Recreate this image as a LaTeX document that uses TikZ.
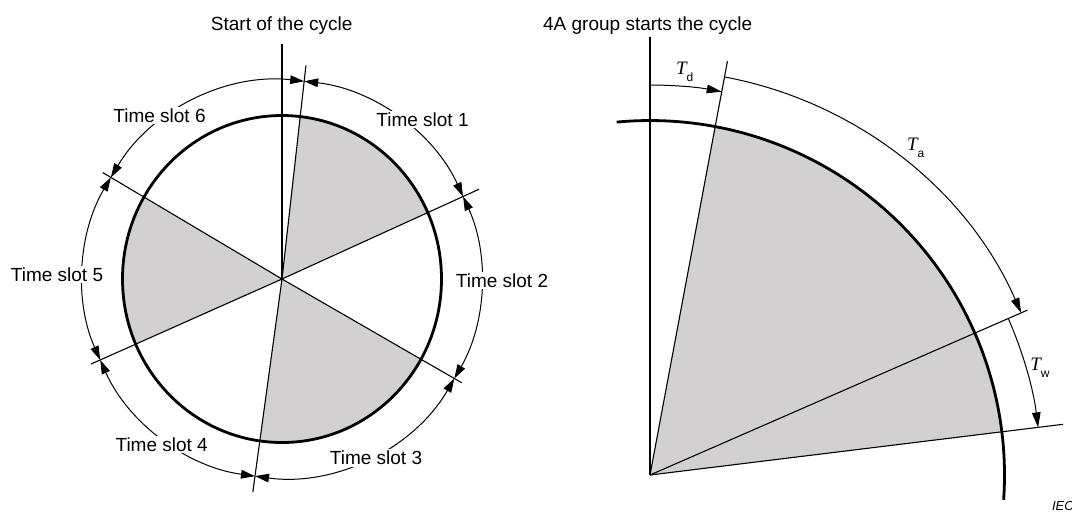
\documentclass[tikz,border=0pt]{standalone}
\usepackage{fontspec}
\setmainfont{Liberation Sans}
\newfontfamily\timesfont{Liberation Serif}
\usetikzlibrary{arrows.meta}
\definecolor{slotgray}{RGB}{210,208,209}
\newcommand{\tsub}[2]{{\timesfont\itshape #1}\raisebox{-3.6pt}{\fontsize{6}{7}\selectfont #2}}
\tikzset{
    % arcs between two slot lines, tips at both ends
    slotarrow/.style={
        line width=0.5pt,
        <->,
        >={Triangle[length=7pt, width=4.3pt]}
    },
    % arcs of the timing, tip at the end only
    timearrow/.style={
        line width=0.5pt,
        ->,
        >={Triangle[length=7.5pt, width=4.3pt]}
    },
    rimline/.style={line width=1.4pt},
    thinline/.style={line width=0.55pt},
    lbl/.style={font=\fontsize{9.5}{11}\selectfont, inner sep=0.8pt, anchor=base, fill=white}
}
\begin{document}
\begin{tikzpicture}[x=0.5pt,y=0.5pt]
    \useasboundingbox (0,0) rectangle (1072,-511);
    % ===================== left =====================
    \begin{scope}[shift={(282,-279)}]
     \path
     (0,0) coordinate (o)
     (90:235) coordinate (s0)
     (83.6:215) coordinate (l1)
     (24.5:216.5) coordinate (l2)
     (-30:207.5) coordinate (l3)
     (262.2:215) coordinate (l4)
     (204:209) coordinate (l5)
     (149.3:208.5) coordinate (l6);
     \begin{scope}
      \clip (o) ellipse [x radius=159.5, y radius=163.5];
      \fill[slotgray] (o) -- (83.6:260) -- (24.5:260) -- cycle;
      \fill[slotgray] (o) -- (-30:260) -- (262.2:260) -- cycle;
      \fill[slotgray] (o) -- (204:260) -- (149.3:260) -- cycle;
     \end{scope}
     \draw[rimline] (o) ellipse [x radius=159.5, y radius=163.5];
     \draw[thinline] (o) -- (s0);
     \foreach \p in {l1,l2,l3,l4,l5,l6}
       \draw[thinline] (o) -- (\p);

     \foreach \a/\b in {83.6/24.5, 24.5/-30, -30/-97.8, 262.2/204, 204/149.3, 149.3/83.6}
       \draw[slotarrow] (\a:199) arc[start angle=\a, end angle=\b, radius=199];
    \end{scope}
    \node[lbl] (start) at (281.7,-30.3) {Start of the cycle};
    \node[lbl] (slot1) at (422.5,-126.7) {Time slot 1};
    \node[lbl] (slot2) at (502,-287.3) {Time slot 2};
    \node[lbl] (slot3) at (376,-464.8) {Time slot 3};
    \node[lbl] (slot4) at (161.7,-451) {Time slot 4};
    \node[lbl] (slot5) at (57,-281.7) {Time slot 5};
    \node[lbl] (slot6) at (159.5,-122.7) {Time slot 6};

    % ===================== right =====================
    \begin{scope}[shift={(650,-475)}]
     \path
     (0,0) coordinate (p)
     (90:438) coordinate (q0)
     (79.4:421) coordinate (q1)
     (23.6:412) coordinate (q2)
     (7:416) coordinate (q3);
     \fill[slotgray] (p) -- (7:354.5) arc[start angle=7, end angle=79.4, radius=354.5] -- cycle;
     \draw[thinline] (p) -- (q0);
     \draw[thinline] (p) -- (q1);
     \draw[thinline] (p) -- (q2);
     \draw[thinline] (p) -- (q3);
     \draw[rimline] (95.4:354.5) arc[start angle=95.4, end angle=-4, radius=354.5];

     \draw[timearrow] (90:390) arc[start angle=90, end angle=79.4, radius=390];
     \draw[timearrow] (79.4:405) arc[start angle=79.4, end angle=23.6, radius=405];
     \draw[timearrow] (23.6:391) arc[start angle=23.6, end angle=7, radius=391];
    \end{scope}
    \node[lbl] (group) at (647.7,-30.7) {4A group starts the cycle};
    \node[lbl, anchor=base west, fill=none] (td) at (674,-74.3) {\tsub{T}{d}};
    \node[lbl, anchor=base west, fill=none] (ta) at (905,-150.7) {\tsub{T}{a}};
    \node[lbl, anchor=base west, fill=none] (tw) at (1028.3,-370) {\tsub{T}{w}};
    \node[lbl, anchor=base west, fill=none, font=\fontsize{6.5}{7}\selectfont\itshape] (iec) at (1050,-510.5) {IEC};
\end{tikzpicture}
\end{document}
